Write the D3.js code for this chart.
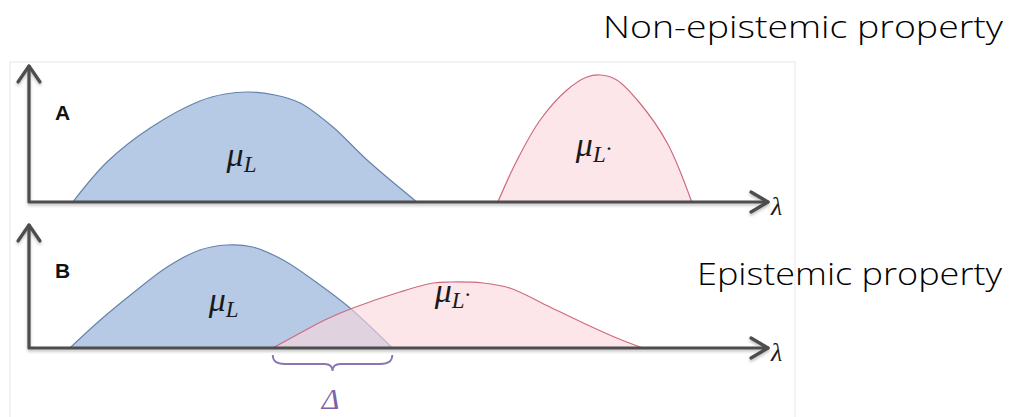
<!DOCTYPE html>
<html>
<head>
<meta charset="utf-8">
<script src="https://cdn.jsdelivr.net/npm/d3@7"></script>
<style>
  body { margin: 0; background: #fff; }
  svg { display: block; }
  .axis-line { stroke: #4d4d4d; stroke-width: 3.2; fill: none; stroke-linecap: round; stroke-linejoin: round; }
  .blue-area { fill: #b6cae5; stroke: #6683ad; stroke-width: 1.2; }
  .red-area { fill: rgba(250, 214, 220, 0.62); stroke: #cf6a7e; stroke-width: 1.2; }
  .mu { font-family: "Liberation Serif", "Times New Roman", serif; font-style: italic; fill: #1a1a1a; }
  .panel-label { font-family: "Liberation Sans", Arial, sans-serif; font-weight: bold; font-size: 21px; fill: #111; }
  .title { font-family: "Open Sans", "Noto Sans", sans-serif; font-weight: 300; font-size: 32px; fill: #000; }
</style>
</head>
<body>
<svg id="chart"></svg>
<script>
// lambda positions (0..100) and heights
const blueA = [
  [5.9, 0], [10.5, 40], [16.3, 74], [23.0, 101], [26.4, 108], [29.7, 110],
  [33.1, 107], [36.5, 99], [40.9, 75], [45.5, 42], [52.2, 0],
];
const redA = [
  [63.1, 0], [65.7, 42], [68.8, 82], [72.4, 112], [75.1, 125], [76.9, 127],
  [79.1, 122], [82.2, 99], [85.9, 59], [89.2, 0],
];
const blueB = [
  [5.5, 0], [9.6, 28], [14.0, 55], [18.6, 81], [23.0, 98], [26.6, 103],
  [30.1, 101], [34.2, 88], [38.8, 65], [43.2, 40], [48.9, 0],
];
const redB = [
  [32.8, 0], [36.5, 15], [39.8, 28], [43.6, 40], [49.9, 56], [54.4, 65],
  [56.7, 66], [61.1, 65], [64.7, 60], [70.1, 41], [74.6, 25], [79.1, 10],
  [82.6, 0],
];
const overlapRange = [32.8, 48.9];
const panelNames = ["A", "B"];
const titles = ["Non-epistemic property", "Epistemic property"];

const width = 1029;
const height = 417;

const svg = d3.select("#chart").attr("width", width).attr("height", height);

const defs = svg.append("defs");
const shadow = defs.append("filter").attr("id", "shadow")
  .attr("x", "-5%").attr("y", "-50%").attr("width", "110%").attr("height", "200%");
shadow.append("feDropShadow").attr("dx", 0).attr("dy", 2).attr("stdDeviation", 1.5)
  .attr("flood-color", "#000").attr("flood-opacity", 0.25);

// faint frame of the pasted picture
svg.append("rect")
  .attr("x", 10).attr("y", 62).attr("width", 785).attr("height", 370)
  .attr("fill", "none").attr("stroke", "#ebebeb").attr("stroke-width", 1.2);

const x = d3.scaleLinear().domain([0, 100]).range([29, 772]);

const panels = [
  { name: panelNames[0], base: 202, top: 66, blue: blueA, red: redA,
    muL: [28.6, 166], muL2: [76.0, 156] },
  { name: panelNames[1], base: 348, top: 225, blue: blueB, red: redB,
    muL: [26.2, 311], muL2: [57.0, 302] },
];

panels.forEach((p) => {
  const y = d3.scaleLinear().domain([0, 140]).range([p.base, p.base - 140]);
  const area = d3.area()
    .x((d) => x(d[0]))
    .y0(p.base)
    .y1((d) => y(d[1]))
    .curve(d3.curveCatmullRom.alpha(0.5));

  const g = svg.append("g");

  g.append("path").datum(p.blue).attr("class", "blue-area").attr("d", area);
  g.append("path").datum(p.red).attr("class", "red-area").attr("d", area);

  // axes with open arrow heads
  const ax = g.append("g").attr("filter", "url(#shadow)");
  ax.append("path").attr("class", "axis-line")
    .attr("d", `M${x(0)},${p.base}H768 M${x(0)},${p.base}V${p.top}`);
  ax.append("path").attr("class", "axis-line")
    .attr("d", `M751,${p.base - 10}L768,${p.base}L751,${p.base + 10}`);
  ax.append("path").attr("class", "axis-line")
    .attr("d", `M${x(0) - 11},${p.top + 16}L${x(0)},${p.top}L${x(0) + 11},${p.top + 16}`);

  g.append("text").attr("class", "mu")
    .attr("x", 771).attr("y", p.base + 13)
    .attr("font-size", 26).text("λ");

  g.append("text").attr("class", "panel-label")
    .attr("x", 55).attr("y", p.top + (p.name === "A" ? 54 : 53)).text(p.name);

  const m1 = g.append("text").attr("class", "mu")
    .attr("x", x(p.muL[0])).attr("y", p.muL[1]).attr("text-anchor", "middle")
    .attr("font-size", 34);
  m1.append("tspan").text("μ");
  m1.append("tspan").attr("font-size", 23).attr("dy", 6).text("L");

  const m2 = g.append("text").attr("class", "mu")
    .attr("x", x(p.muL2[0])).attr("y", p.muL2[1]).attr("text-anchor", "middle")
    .attr("font-size", 34);
  m2.append("tspan").text("μ");
  m2.append("tspan").attr("font-size", 23).attr("dy", 6).text("L");
  m2.append("tspan").attr("font-size", 23).attr("dy", -6).text("·");
});

// brace under the overlap in panel B
const bx0 = x(overlapRange[0]);
const bx1 = x(overlapRange[1]);
const bm = (bx0 + bx1) / 2;
const by = 355;
svg.append("path")
  .attr("d", `M${bx0},${by} Q${bx0},${by + 9} ${bx0 + 12},${by + 9} L${bm - 8},${by + 9} Q${bm},${by + 9} ${bm},${by + 16} Q${bm},${by + 9} ${bm + 8},${by + 9} L${bx1 - 12},${by + 9} Q${bx1},${by + 9} ${bx1},${by}`)
  .attr("fill", "none").attr("stroke", "#8a76b2").attr("stroke-width", 1.8);
svg.append("text").attr("class", "mu")
  .attr("x", bm - 2).attr("y", 409).attr("text-anchor", "middle")
  .attr("font-size", 30).style("fill", "#7a64a8").text("Δ");

svg.append("text").attr("class", "title")
  .attr("x", 603).attr("y", 38).attr("textLength", 400)
  .attr("lengthAdjust", "spacingAndGlyphs").text(titles[0]);
svg.append("text").attr("class", "title")
  .attr("x", 697).attr("y", 285).attr("textLength", 305)
  .attr("lengthAdjust", "spacingAndGlyphs").text(titles[1]);
</script>
</body>
</html>
